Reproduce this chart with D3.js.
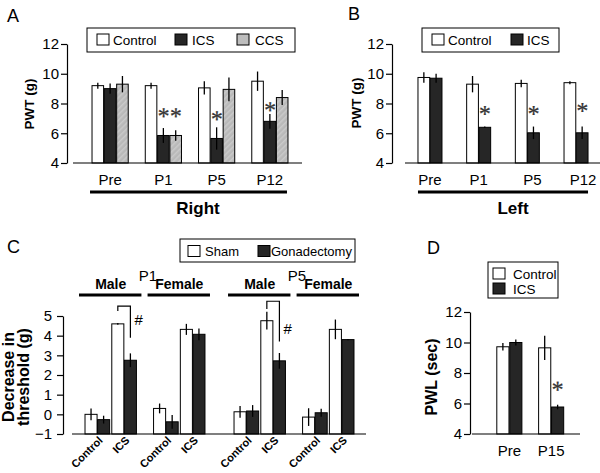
<!DOCTYPE html>
<html><head><meta charset="utf-8">
<script src="https://cdn.jsdelivr.net/npm/d3@7"></script>
<style>
body{margin:0;background:#fff}
svg{display:block}
text{font-family:"Liberation Sans",Arial,Helvetica,sans-serif;fill:#000}
</style>
</head><body>
<svg id="c" width="600" height="473"></svg>
<script>
// ---------------- DATA ----------------
const groupsA = ["Pre","P1","P5","P12"];
const seriesA = ["Control","ICS","CCS"];
const controlA = [9.2, 9.2, 9.05, 9.5];
const controlAErr = [0.2, 0.2, 0.45, 0.65];
const icsA = [9.0, 5.85, 5.65, 6.8];
const icsAErr = [0.35, 0.5, 0.75, 0.5];
const ccsA = [9.3, 5.85, 8.95, 8.4];
const ccsAErr = [0.55, 0.35, 0.8, 0.5];
const starsA = [["P1","ICS",7.2],["P1","CCS",7.2],["P5","ICS",7.0],["P12","ICS",7.6]];
const yTicksAB = [4, 6, 8, 10, 12];

const groupsB = ["Pre","P1","P5","P12"];
const seriesB = ["Control","ICS"];
const controlB = [9.75, 9.3, 9.35, 9.4];
const controlBErr = [0.35, 0.55, 0.25, 0.1];
const icsB = [9.7, 6.4, 6.03, 6.03];
const icsBErr = [0.3, 0.05, 0.42, 0.42];
const starsB = [["P1","ICS",7.35],["P5","ICS",7.35],["P12","ICS",7.55]];

const timesC = ["P1","P5"];
const sexesC = ["Male","Female"];
const treatC = ["Control","ICS"];
const seriesC = ["Sham","Gonadectomy"];
// order: P1 Male Control, P1 Male ICS, P1 Female Control, P1 Female ICS, then P5 same
const shamC = [0.0, 4.6, 0.3, 4.32, 0.13, 4.76, -0.14, 4.32];
const shamCErr = [0.3, 0.05, 0.25, 0.28, 0.3, 0.45, 0.45, 0.5];
const gonadC = [-0.27, 2.75, -0.38, 4.07, 0.17, 2.72, 0.08, 3.8];
const gonadCErr = [0.2, 0.35, 0.35, 0.3, 0.3, 0.4, 0.2, 0.03];
const bracketsC = [
  {time:"P1", top:5.5, left:5.25, right:3.9, hash:4.8},
  {time:"P5", top:5.75, left:5.35, right:3.7, hash:4.35}
];
const yTicksC = [-1, 0, 1, 2, 3, 4, 5];

const groupsD = ["Pre","P15"];
const seriesD = ["Control","ICS"];
const controlD = [9.72, 9.65];
const controlDErr = [0.25, 0.8];
const icsD = [10.0, 5.77];
const icsDErr = [0.2, 0.15];
const starsD = [["P15","ICS",6.95]];

// ---------------- DRAW ----------------
const svg = d3.select("#c");
const defs = svg.append("defs");
const pat = defs.append("pattern").attr("id","hatch").attr("patternUnits","userSpaceOnUse")
  .attr("width",4).attr("height",4).attr("patternTransform","rotate(45)");
pat.append("rect").attr("width",4).attr("height",4).attr("fill","#b9b9b9");
pat.append("rect").attr("width",1.5).attr("height",4).attr("fill","#cacaca");

const FILL = {Control:"#fff", ICS:"#262626", CCS:"url(#hatch)", Sham:"#fff", Gonadectomy:"#262626"};

function drawStar(g, x, y, fs) {
  const by = y + fs*0.36;
  g.append("text").attr("x", x).attr("y", by).attr("text-anchor","middle")
    .attr("transform", `rotate(0.6,${x},${by})`)
    .style("font-family", '"Liberation Serif", serif').style("font-size", fs+"px")
    .style("fill","#333").style("stroke","#333").style("stroke-width","0.25").text("*");
}

function yAxis(g, y, xPos, ticks, pad) {
  const ax = g.append("g").attr("transform",`translate(${xPos},0)`)
    .call(d3.axisLeft(y).tickValues(ticks).tickFormat(d3.format("d")).tickSize(6).tickSizeOuter(0).tickPadding(pad));
  ax.attr("font-size", 15).attr("font-family", '"Liberation Sans",Arial,sans-serif');
  ax.select(".domain").attr("stroke","#000").attr("stroke-width",1.2);
  ax.selectAll(".tick line").attr("stroke","#000").attr("stroke-width",1.2);
  ax.selectAll(".tick text").style("font-size","15px").attr("fill","#000");
}

function barsAndErrors(g, data, y, base) {
  g.selectAll("rect.bar").data(data).join("rect").attr("class","bar")
    .attr("x", d => d.x).attr("width", d => d.w)
    .attr("y", d => y(Math.max(d.v, base))).attr("height", d => Math.abs(y(d.v) - y(base)))
    .attr("fill", d => FILL[d.s]).attr("stroke","#000").attr("stroke-width",1);
  g.selectAll("line.err").data(data).join("line").attr("class","err")
    .attr("x1", d => d.x + d.w/2).attr("x2", d => d.x + d.w/2)
    .attr("y1", d => y(d.v + d.e)).attr("y2", d => y(d.v - d.e))
    .attr("stroke", "#000").attr("stroke-width", 1.3);
}

function legendRow(g, items, xs, ys, txs, fs) {
  items.forEach((s, i) => {
    g.append("rect").attr("x", xs[i]).attr("y", ys[i]).attr("width",12).attr("height",11)
      .attr("fill", s === "CCS" ? "#bdbdbd" : FILL[s]).attr("stroke","#000").attr("stroke-width",1);
    g.append("text").attr("x", txs[i][0]).attr("y", txs[i][1]).style("font-size", fs + "px").text(s);
  });
}

function simplePanel(cfg) {
  const g = svg.append("g");
  const y = d3.scaleLinear().domain(cfg.yDomain).range(cfg.yRange);
  const x = d3.scaleBand().domain(cfg.groups).range(cfg.xRange).paddingInner(cfg.pI).paddingOuter(cfg.pO);
  const xs = d3.scaleBand().domain(cfg.series).range([0, x.bandwidth()]).paddingInner(cfg.sPI);
  const data = [];
  cfg.series.forEach((s, i) => cfg.groups.forEach((gr, j) => {
    data.push({g: gr, s, v: cfg.values[i][j], e: cfg.errors[i][j], x: x(gr) + xs(s), w: xs.bandwidth()});
  }));
  barsAndErrors(g, data, y, cfg.yDomain[0]);
  yAxis(g, y, cfg.yAxisX, cfg.ticks, cfg.tickPad);
  g.append("line").attr("x1", cfg.xAxis[0]).attr("x2", cfg.xAxis[1])
    .attr("y1", y(cfg.yDomain[0])).attr("y2", y(cfg.yDomain[0])).attr("stroke","#000").attr("stroke-width",1.2);
  cfg.groups.forEach((gr, j) => {
    g.append("text").attr("x", x(gr) + x.bandwidth()/2 + (cfg.labelDx ? cfg.labelDx[j] : 0)).attr("y", cfg.labelY)
      .attr("text-anchor","middle").style("font-size", cfg.labelSize + "px").text(gr);
  });
  (cfg.stars || []).forEach(([gr, s, v]) => {
    drawStar(g, x(gr) + xs(s) + xs.bandwidth()/2, y(v), cfg.starSize);
  });
  g.append("text").attr("transform", `translate(${cfg.yLabel[0]},${cfg.yLabel[1]}) rotate(-90)`)
    .attr("text-anchor","middle").style("font-weight","bold").style("font-size", cfg.yLabelSize + "px").text(cfg.yTitle);
  g.append("text").attr("x", cfg.letter[0]).attr("y", cfg.letter[1]).style("font-size","18px").text(cfg.letterText);
  return {g, x, y, xs};
}

// ---- Panel A ----
const A = simplePanel({
  groups: groupsA, series: seriesA, values: [controlA, icsA, ccsA], errors: [controlAErr, icsAErr, ccsAErr],
  yDomain: [4, 12], yRange: [163, 44], xRange: [83.5, 296.5], pI: 0.32, pO: 0.16, sPI: 0.06,
  yAxisX: 67, ticks: yTicksAB, tickPad: 2, xAxis: [73, 302], labelY: 185, labelSize: 15,
  stars: starsA, starSize: 24, yLabel: [34, 104], yLabelSize: 13.5, yTitle: "PWT (g)",
  letter: [7, 22], letterText: "A"
});
A.g.append("rect").attr("x", A.x("Pre") - 2).attr("y", 190.5)
  .attr("width", A.x("P12") + A.x.bandwidth() - A.x("Pre") + 1).attr("height", 3).attr("fill","#000");
A.g.append("text").attr("x", 198).attr("y", 214).attr("text-anchor","middle")
  .style("font-weight","bold").style("font-size","17px").text("Right");
A.g.append("rect").attr("x",87).attr("y",28).attr("width",208).attr("height",24).attr("fill","none").attr("stroke","#000");
legendRow(A.g, seriesA, [97,175,237], [34,34,34], [[113,45],[192,45],[255,45]], 13.5);

// ---- Panel B ----
const B = simplePanel({
  groups: groupsB, series: seriesB, values: [controlB, icsB], errors: [controlBErr, icsBErr],
  yDomain: [4, 12], yRange: [163, 44], xRange: [406, 600], pI: 0.507, pO: 0.246, sPI: 0.04,
  yAxisX: 392, ticks: yTicksAB, tickPad: 2, xAxis: [405, 600], labelY: 185, labelSize: 15,
  labelDx: [0, 0, 5, 7],
  stars: starsB, starSize: 24, yLabel: [361, 103], yLabelSize: 13.5, yTitle: "PWT (g)",
  letter: [348, 20], letterText: "B"
});
B.g.append("rect").attr("x", B.x("Pre")).attr("y", 190.5)
  .attr("width", B.x("P12") + B.x.bandwidth() - B.x("Pre")).attr("height", 3).attr("fill","#000");
B.g.append("text").attr("x", 513).attr("y", 214).attr("text-anchor","middle")
  .style("font-weight","bold").style("font-size","17px").text("Left");
B.g.append("rect").attr("x",422).attr("y",28).attr("width",137).attr("height",24).attr("fill","none").attr("stroke","#000");
legendRow(B.g, seriesB, [432,511], [34,34], [[448,45],[527,45]], 13.5);

// ---- Panel C ----
(function(){
  const g = svg.append("g");
  const y = d3.scaleLinear().domain([-1, 5]).range([434, 316]);
  const xt = d3.scaleBand().domain(timesC).range([71, 368]).paddingInner(0.195).paddingOuter(0.094);
  const xsx = d3.scaleBand().domain(sexesC).range([0, xt.bandwidth()]).paddingInner(0.25);
  const xtr = d3.scaleBand().domain(treatC).range([0, xsx.bandwidth()]).paddingInner(0.08);
  const xse = d3.scaleBand().domain(seriesC).range([0, xtr.bandwidth()]).paddingInner(0.04);
  const data = [];
  let k = 0;
  timesC.forEach(t => sexesC.forEach(sx => treatC.forEach(tr => {
    const bx = xt(t) + xsx(sx) + xtr(tr);
    data.push({s:"Sham", v: shamC[k], e: shamCErr[k], x: bx + xse("Sham"), w: xse.bandwidth()});
    data.push({s:"Gonadectomy", v: gonadC[k], e: gonadCErr[k], x: bx + xse("Gonadectomy"), w: xse.bandwidth()});
    k++;
  })));
  g.selectAll("rect.bar").data(data).join("rect").attr("class","bar")
    .attr("x", d => d.x).attr("width", d => d.w)
    .attr("y", d => y(d.v)).attr("height", d => y(-1) - y(d.v))
    .attr("fill", d => FILL[d.s]).attr("stroke","#000").attr("stroke-width",1);
  g.selectAll("line.err").data(data).join("line").attr("class","err")
    .attr("x1", d => d.x + d.w/2).attr("x2", d => d.x + d.w/2)
    .attr("y1", d => y(d.v + d.e)).attr("y2", d => y(d.v - d.e))
    .attr("stroke","#000").attr("stroke-width",1.3);
  yAxis(g, y, 63, yTicksC, 5);
  g.append("line").attr("x1",72).attr("x2",366).attr("y1",y(-1)).attr("y2",y(-1)).attr("stroke","#000").attr("stroke-width",1.2);
  timesC.forEach(t => sexesC.forEach(sx => treatC.forEach(tr => {
    const cx = xt(t) + xsx(sx) + xtr(tr) + xtr.bandwidth()/2;
    g.append("text").attr("transform", `translate(${cx + 6},${441}) rotate(-45)`)
      .attr("text-anchor","end").style("font-weight","bold").style("font-size","11px").text(tr);
  })));
  timesC.forEach(t => {
    sexesC.forEach(sx => {
      const x0 = xt(t) + xsx(sx);
      g.append("rect").attr("x", x0 - 6).attr("y", 293.5).attr("width", xsx.bandwidth() + 11).attr("height", 3).attr("fill","#000");
      g.append("text").attr("x", x0 + xsx.bandwidth()/2).attr("y", 289).attr("text-anchor","middle")
        .style("font-weight","bold").style("font-size","14px").text(sx);
    });
    const mid = xt(t) + (xsx("Male") + xsx.bandwidth() + xsx("Female")) / 2;
    g.append("text").attr("x", mid + 3).attr("y", 281).attr("text-anchor","middle").style("font-size","15px").text(t);
  });
  bracketsC.forEach(b => {
    const bx = xt(b.time) + xsx("Male") + xtr("ICS");
    const x1 = bx + xse("Sham") + xse.bandwidth()/2;
    const x2 = bx + xse("Gonadectomy") + xse.bandwidth()/2;
    g.append("path").attr("d", `M${x1},${y(b.left)}V${y(b.top)}H${x2}V${y(b.right)}`)
      .attr("fill","none").attr("stroke","#000").attr("stroke-width",1.2);
    g.append("text").attr("x", x2 + 8).attr("y", y(b.hash) + 5).attr("text-anchor","middle")
      .style("font-size","15px").style("font-style","italic").text("#");
  });
  const yl = g.append("text").attr("transform","translate(14,377) rotate(-90)").attr("text-anchor","middle")
    .style("font-weight","bold").style("font-size","16px");
  yl.append("tspan").attr("x",0).attr("dy",0).text("Decrease in");
  yl.append("tspan").attr("x",0).attr("dy",15).text("threshold (g)");
  g.append("text").attr("x",7).attr("y",253).style("font-size","18px").text("C");
  g.append("rect").attr("x",180).attr("y",239).attr("width",175).attr("height",23).attr("fill","none").attr("stroke","#000");
  legendRow(g, seriesC, [188,258], [245.5,245.5], [[205,256],[271,256]], 13);
})();

// ---- Panel D ----
const D = simplePanel({
  groups: groupsD, series: seriesD, values: [controlD, icsD], errors: [controlDErr, icsDErr],
  yDomain: [4, 12], yRange: [434, 312], xRange: [480.5, 580], pI: 0.4, pO: 0.39, sPI: 0.06,
  yAxisX: 470, ticks: yTicksAB, tickPad: 2, xAxis: [472, 580], labelY: 456, labelSize: 15,
  stars: starsD, starSize: 24, yLabel: [437, 377], yLabelSize: 16, yTitle: "PWL (sec)",
  letter: [427, 254], letterText: "D"
});
D.g.append("rect").attr("x",488).attr("y",262).attr("width",70).attr("height",36).attr("fill","none").attr("stroke","#000");
legendRow(D.g, seriesD, [493,493], [268,283], [[513,279],[513,294]], 13.5);
</script>
</body></html>
